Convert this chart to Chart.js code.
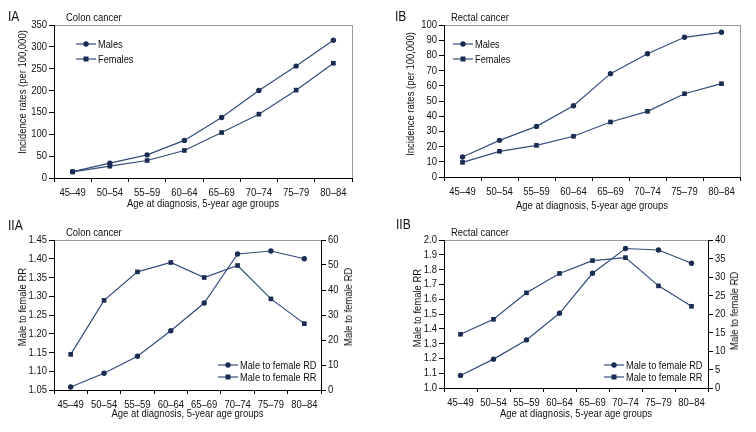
<!DOCTYPE html>
<html><head><meta charset="utf-8">
<script src="https://cdn.jsdelivr.net/npm/chart.js@4/dist/chart.umd.min.js"></script>
<style>
html,body{margin:0;padding:0;background:#fff;}
#wrap{position:relative;width:756px;height:432px;overflow:hidden;font-family:"Liberation Sans",Arial,sans-serif;color:#111;}
canvas{position:absolute;}
.t{position:absolute;white-space:nowrap;font-size:11px;line-height:12px;transform:scaleX(0.86);transform-origin:0 50%;}
.pl{font-size:14px;line-height:14px;}
.leg{position:absolute;display:flex;align-items:center;font-size:11px;line-height:12px;white-space:nowrap;}
.leg svg{display:block;margin-right:2px;}
.leg span{display:inline-block;transform:scaleX(0.84);transform-origin:0 50%;}
.rt{position:absolute;white-space:nowrap;font-size:11px;line-height:12px;transform:translate(-50%,-50%) rotate(-90deg) scaleX(0.86);}
</style></head>
<body><div id="wrap">
<canvas id="cIA" width="378" height="216" style="left:0;top:0"></canvas>
<canvas id="cIB" width="378" height="216" style="left:378px;top:0"></canvas>
<canvas id="cIIA" width="378" height="216" style="left:0;top:216px"></canvas>
<canvas id="cIIB" width="378" height="216" style="left:378px;top:216px"></canvas>
<div class="t pl" style="left:8px;top:9px">IA</div>
<div class="t" style="left:66px;top:11px">Colon cancer</div>
<div class="t pl" style="left:395px;top:9px">IB</div>
<div class="t" style="left:451px;top:11px">Rectal cancer</div>
<div class="t pl" style="left:8px;top:218px">IIA</div>
<div class="t" style="left:66px;top:226px">Colon cancer</div>
<div class="t pl" style="left:396px;top:217px">IIB</div>
<div class="t" style="left:451px;top:226px">Rectal cancer</div>
<div class="rt" style="left:22px;top:92px">Incidence rates (per 100,000)</div>
<div class="rt" style="left:410px;top:94px">Incidence rates (per 100,000)</div>
<div class="rt" style="left:22px;top:307px">Male to female RR</div>
<div class="rt" style="left:417px;top:308px">Male to female RR</div>
<div class="rt" style="left:348px;top:307px">Male to female RD</div>
<div class="rt" style="left:734px;top:311px">Male to female RD</div>
</div>
<script>
// ---------- data ----------
const ageGroups = ['45\u201349','50\u201354','55\u201359','60\u201364','65\u201369','70\u201374','75\u201379','80\u201384'];
const colonMales   = [14.5, 34, 53, 86, 138.5, 200, 256, 315];
const colonFemales = [14, 27, 40, 63, 104, 146, 201, 262.5];
const rectalMales   = [13.2, 24.1, 33.3, 46.9, 68, 81.1, 91.9, 95.2];
const rectalFemales = [9.6, 16.9, 20.8, 26.8, 36.2, 43.2, 54.8, 61.4];
const colonRR  = [1.145, 1.289, 1.365, 1.390, 1.350, 1.382, 1.293, 1.227];
const colonRD  = [1.2, 6.7, 13.5, 23.7, 34.8, 54.4, 55.6, 52.5];
const rectalRR = [1.363, 1.464, 1.643, 1.774, 1.861, 1.881, 1.690, 1.552];
const rectalRD = [3.4, 7.8, 13.0, 20.2, 31.0, 37.7, 37.3, 33.7];
const colonIncTicks  = [0, 50, 100, 150, 200, 250, 300, 350];
const rectalIncTicks = [0, 10, 20, 30, 40, 50, 60, 70, 80, 90, 100];
const colonRRTicks   = [1.05, 1.10, 1.15, 1.20, 1.25, 1.30, 1.35, 1.40, 1.45];
const colonRDTicks   = [0, 10, 20, 30, 40, 50, 60];
const rectalRRTicks  = [1.0, 1.1, 1.2, 1.3, 1.4, 1.5, 1.6, 1.7, 1.8, 1.9, 2.0];
const rectalRDTicks  = [0, 5, 10, 15, 20, 25, 30, 35, 40];
const xTitle = 'Age at diagnosis, 5-year age groups';

// ---------- style ----------
const FONT = '"Liberation Sans", Arial, sans-serif';
const FS = 11;
const SX = 0.86; // horizontal condensing of canvas text (reference uses a condensed face)
const TXT = '#111';
const LINE = '#324c78';
const MARK = '#1b2c52';

function condense(canvas) {
  const ctx = canvas.getContext('2d');
  const orig = ctx.fillText.bind(ctx);
  ctx.fillText = function (t, x, y, mw) {
    this.save();
    this.translate(x, y);
    this.scale(SX, 1);
    if (mw === undefined) orig(t, 0, 0); else orig(t, 0, 0, mw / SX);
    this.restore();
  };
}

const boxPlugin = {
  id: 'box',
  beforeDraw(chart) {
    const a = chart.chartArea, ctx = chart.ctx;
    ctx.save();
    ctx.strokeStyle = '#9a9a9a';
    ctx.lineWidth = 1;
    ctx.strokeRect(Math.round(a.left) + 0.5, Math.round(a.top) + 0.5, Math.round(a.right - a.left), Math.round(a.bottom - a.top));
    ctx.restore();
  }
};

function ds(label, data, style, axis) {
  return {
    label, data, yAxisID: axis,
    borderColor: LINE, borderWidth: 1.2, tension: 0,
    pointStyle: style, pointRadius: style === 'rect' ? 3.3 : 2.7,
    pointBackgroundColor: MARK, pointBorderColor: MARK, pointBorderWidth: 0,
    fill: false
  };
}

function xAxis(h, padBottom) {
  return {
    type: 'category', offset: true,
    grid: { offset: true, drawOnChartArea: false, drawTicks: true, tickLength: 4, color: '#000', lineWidth: 1 },
    border: { display: true, color: '#000', width: 1 },
    ticks: { color: TXT, font: { family: FONT, size: FS }, padding: 4, maxRotation: 0, minRotation: 0, autoSkip: false },
    title: { display: true, text: xTitle, color: TXT, font: { family: FONT, size: FS }, padding: { top: 0, bottom: padBottom } },
    afterFit: s => { s.height = h; }
  };
}

function yAxis(pos, w, tickArr, dec) {
  return {
    type: 'linear', position: pos, min: tickArr[0], max: tickArr[tickArr.length - 1],
    afterBuildTicks: s => { s.ticks = tickArr.map(v => ({ value: v })); },
    grid: { drawOnChartArea: false, drawTicks: true, tickLength: 5, color: '#000' },
    border: { display: true, color: '#000', width: 1 },
    ticks: { color: TXT, font: { family: FONT, size: FS }, padding: 2, autoSkip: false, callback: v => Number(v).toFixed(dec) },
    title: { display: false },
    afterFit: s => { s.width = w; }
  };
}

function makeChart(id, datasets, scales, pad) {
  const cv = document.getElementById(id);
  condense(cv);
  return new Chart(cv, {
    type: 'line',
    data: { labels: ageGroups, datasets },
    options: {
      responsive: false, animation: false, devicePixelRatio: 1,
      layout: { padding: pad },
      plugins: { legend: { display: false }, tooltip: { enabled: false } },
      scales
    },
    plugins: [boxPlugin]
  });
}

function legend(x, y, gap, items) {
  const wrap = document.getElementById('wrap');
  items.forEach((it, i) => {
    const d = document.createElement('div');
    d.className = 'leg';
    d.style.left = x + 'px';
    d.style.top = (y + i * gap) + 'px';
    const mk = it.pointStyle === 'rect'
      ? `<rect x="7.5" y="1.5" width="5" height="5" fill="${MARK}"/>`
      : `<circle cx="10" cy="4" r="2.7" fill="${MARK}"/>`;
    d.innerHTML = `<svg width="20" height="8"><line x1="0" y1="4" x2="20" y2="4" stroke="${LINE}" stroke-width="1.2"/>${mk}</svg><span>${it.label}</span>`;
    wrap.appendChild(d);
  });
}

// IA
const dIA = [ds('Males', colonMales, 'circle', 'y'), ds('Females', colonFemales, 'rect', 'y')];
makeChart('cIA', dIA, {
  x: xAxis(38, 5),
  y: yAxis('left', 54, colonIncTicks, 0)
}, { left: 0, top: 25, right: 26, bottom: 0 });
legend(76, 38, 14.5, dIA);

// IB
const dIB = [ds('Males', rectalMales, 'circle', 'y'), ds('Females', rectalFemales, 'rect', 'y')];
makeChart('cIB', dIB, {
  x: xAxis(39, 3),
  y: yAxis('left', 66, rectalIncTicks, 0)
}, { left: 0, top: 25, right: 16, bottom: 0 });
legend(453, 38, 14.5, dIB);

// IIA
const dIIA = [ds('Male to female RD', colonRD, 'circle', 'y1'), ds('Male to female RR', colonRR, 'rect', 'y')];
makeChart('cIIA', dIIA, {
  x: xAxis(42, 11),
  y: yAxis('left', 54, colonRRTicks, 2),
  y1: yAxis('right', 57, colonRDTicks, 0)
}, { left: 0, top: 24, right: 0, bottom: 0 });
legend(218, 359, 12, dIIA);

// IIB
const dIIB = [ds('Male to female RD', rectalRD, 'circle', 'y1'), ds('Male to female RR', rectalRR, 'rect', 'y')];
makeChart('cIIB', dIIB, {
  x: xAxis(44, 11),
  y: yAxis('left', 66, rectalRRTicks, 1),
  y1: yAxis('right', 48, rectalRDTicks, 0)
}, { left: 0, top: 24, right: 0, bottom: 0 });
legend(604, 359, 12, dIIB);
</script>
</body></html>
